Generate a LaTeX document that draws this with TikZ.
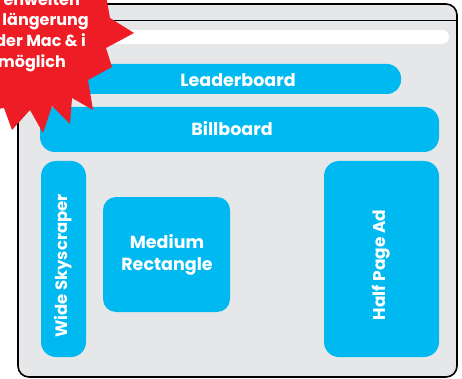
\documentclass[tikz,border=0pt]{standalone}
\usepackage{fontspec}
\setmainfont{Poppins}
\definecolor{adblue}{HTML}{00B9F1}
\definecolor{wingray}{HTML}{E6E7E8}
\definecolor{burst}{HTML}{EE1C25}
\begin{document}
\begin{tikzpicture}[x=1pt,y=-1pt,
  ad/.style={fill=adblue,rounded corners=13pt},
  adtext/.style={text=white,font=\fontsize{17.5}{22}\selectfont\bfseries,align=center},
  bursttext/.style={text=white,font=\fontsize{16}{20}\selectfont\bfseries,anchor=base east,inner sep=0pt}]
\useasboundingbox (0,0) rectangle (462,379);
% browser window
\draw[line width=1.6pt,fill=wingray,rounded corners=11pt] (18,4) rectangle (457,377);
\coordinate (tl) at (18,20.5);
\coordinate (tr) at (457,20.5);
\draw[line width=1.2pt] (tl) -- (tr);
\fill[white,rounded corners=7pt] (40,30) rectangle (449,44);
% ad boxes
\fill[ad,rounded corners=14pt] (76,64) rectangle (401,94);
\node[adtext] (lead) at (238,80) {Leaderboard};
\fill[ad,rounded corners=15pt] (40,107) rectangle (439,152);
\node[adtext] (bill) at (232,129) {Billboard};
\fill[ad,rounded corners=15pt] (41,161) rectangle (86,357);
\node[adtext,font=\fontsize{16.5}{20}\selectfont\bfseries,rotate=90] (sky) at (63,266) {Wide Skyscraper};
\fill[ad,rounded corners=13pt] (103,197) rectangle (230,312);
\node[adtext] (med) at (167,254.5) {Medium\\Rectangle};
\fill[ad,rounded corners=15pt] (324,161) rectangle (439,357);
\node[adtext,font=\fontsize{17}{20}\selectfont\bfseries,rotate=90] (half) at (381,265) {Half Page Ad};
% starburst
\fill[burst] (-20,-20) -- (105,-10) -- (110,18) -- (134,33) -- (106,48) -- (112,67)
  -- (88,80) -- (93,110) -- (72,98) -- (70,124) -- (52,106) -- (43,133) -- (30,110)
  -- (12,130) -- (4,108) -- (-20,112) -- cycle;
\node[bursttext] (b1) at (80,6) {enweiten};
\node[bursttext] (b2) at (89,26) {längerung};
\node[bursttext] (b3) at (86,47) {der Mac \& i};
\node[bursttext] (b4) at (66,68) {möglich};
\end{tikzpicture}
\end{document}
